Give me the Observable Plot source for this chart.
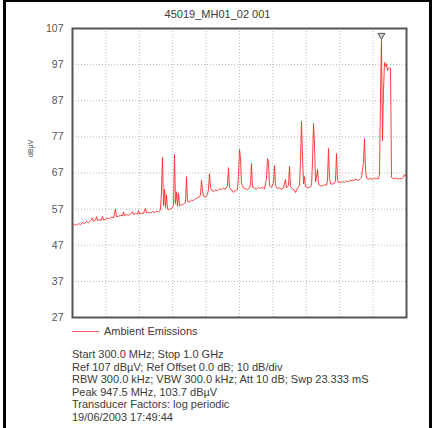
<!DOCTYPE html>
<html><head><meta charset="utf-8">
<script src="https://cdn.jsdelivr.net/npm/d3@7"></script>
<script src="https://cdn.jsdelivr.net/npm/@observablehq/plot@0.6"></script>
<style>
body{margin:0;background:#fff;font-family:"Liberation Sans",Arial,sans-serif;}
#fig{position:relative;width:438px;height:428px;overflow:hidden;background:#fff;}
#border{position:absolute;left:3px;top:-1px;width:429px;height:440px;border:3px solid #000;box-sizing:border-box;}
#title{position:absolute;left:3px;width:429px;top:8px;text-align:center;font-size:11px;color:#3a3a3a;}
#chart{position:absolute;left:0;top:0;}
#legend{position:absolute;left:72px;top:325px;font-size:11px;color:#3a3a3a;height:13px;}
#legend .sw{position:absolute;left:0;top:6px;width:27px;height:1px;background:#ff5a5a;}
#legend #legtext{position:absolute;left:32px;top:0;white-space:nowrap;line-height:13px;}
#notes{position:absolute;left:72px;top:348px;font-size:11px;line-height:12.6px;color:#3a3a3a;}
</style></head>
<body>
<div id="fig">
  <div id="chart"></div>
  <div id="border"></div>
  <div id="title"></div>
  <div id="legend"><span class="sw"></span><span id="legtext"></span></div>
  <div id="notes"></div>
</div>
<script>
const chartTitle = "45019_MH01_02 001";
const seriesName = "Ambient Emissions";
const yUnit = "dBµV";
const yTicks = [27, 37, 47, 57, 67, 77, 87, 97, 107];
const xGridTicks = [370, 440, 510, 580, 650, 720, 790, 860, 930];
const xDomain = [300, 1000];
const peak = {f: 947.5, v: 103.7};
const notes = [
  "Start 300.0 MHz; Stop 1.0 GHz",
  "Ref 107 dBµV; Ref Offset 0.0 dB; 10 dB/div",
  "RBW 300.0 kHz; VBW 300.0 kHz; Att 10 dB; Swp 23.333 mS",
  "Peak 947.5 MHz, 103.7 dBµV",
  "Transducer Factors: log periodic",
  "19/06/2003 17:49:44"
];
const freqMHz = [300,304.2,308.4,312.6,316.8,321,325.1,329.3,333.5,337.7,341.9,344,348.2,350.3,352.4,356.6,360.8,362.9,365,369.2,373.4,377.5,381.7,385.9,390.1,392.2,396.4,400.6,404.8,406.9,409,413.2,417.4,421.6,425.7,427.8,432,436.2,438.3,440.4,444.6,448.8,453,455.1,459.3,463.5,467.7,471.9,476,480.2,484.4,486.5,488.6,490.7,492.8,494.9,497,499.1,503.3,507.5,511.7,513.8,515.9,518,520.1,522.2,524.3,528.4,532.6,536.8,538.9,541,545.2,549.4,553.6,557.8,562,566.2,568.3,570.4,572.5,574.5,578.7,582.9,585,587.1,589.2,591.3,595.5,599.7,603.9,608.1,612.3,616.5,620.7,624.8,626.9,629,633.2,637.4,641.6,645.8,647.9,650,652.1,654.2,656.3,658.4,662.6,666.8,671,673.1,675.1,677.2,681.4,685.6,689.8,694,698.2,702.4,706.6,708.7,710.8,712.9,717.1,721.3,723.4,725.4,729.6,733.8,738,742.2,746.4,748.5,752.7,754.8,756.9,761.1,765.3,767.4,771.6,775.7,777.8,779.9,782,784.1,786.2,788.3,792.5,796.7,800.9,803,805.1,807.2,809.3,811.4,813.5,815.6,819.8,824,828.1,832.3,834.4,836.5,838.6,840.7,844.9,849.1,851.2,853.3,855.4,857.5,861.7,865.9,870.1,874.2,878.4,882.6,886.8,891,895.2,899.4,903.6,905.7,907.8,909.9,912,914.1,916.2,920.4,924.5,928.7,932.9,937.1,941.3,943.4,945.5,947.5,949.7,951.8,953.9,956,958.1,960.2,962.3,964.4,966.5,968.6,972.8,977,981.2,985.3,989.5,993.7,995.8,997.9,1000];
const levelDb = [52.4,52.8,52.5,53.0,52.7,53.3,53.0,53.6,53.2,53.8,54.6,53.6,54.0,54.9,53.8,54.1,53.9,55.0,54.0,54.2,54.5,54.3,54.8,54.6,57.0,54.9,55.0,55.3,55.1,56.2,55.2,55.5,55.3,55.7,56.3,55.5,55.8,55.6,56.6,55.7,55.9,55.8,57.2,56.0,56.1,55.9,56.3,56.1,56.4,56.2,56.8,62.0,71.3,58.0,62.5,57.5,61.0,57.0,56.9,57.2,58.0,72.1,58.5,61.8,57.8,61.5,57.9,58.2,58.4,58.8,66.0,59.2,59.0,59.5,59.4,59.9,60.1,60.4,61.0,65.0,62.0,60.6,60.3,61.0,62.5,66.8,63.0,62.2,61.9,62.3,62.1,62.6,62.4,62.8,62.5,63.5,68.5,63.0,62.3,61.6,62.2,62.4,66.0,73.5,71.0,64.0,63.5,62.8,62.6,62.4,62.8,64.0,69.6,63.0,62.8,62.5,63.0,62.7,63.1,62.6,65.5,71.0,70.0,63.5,63.0,64.5,69.0,63.5,62.7,62.9,62.5,62.8,65.2,62.9,63.5,68.8,63.2,62.6,62.2,61.6,62.8,63.5,70.0,81.3,72.0,64.0,66.0,63.2,62.9,63.0,63.5,70.0,80.7,75.0,64.5,66.0,68.0,63.8,63.5,63.4,63.8,63.6,65.0,73.8,65.5,64.0,63.9,64.2,65.0,72.4,65.0,64.4,64.3,64.6,64.4,64.8,64.6,65.0,64.8,65.1,65.3,64.9,65.5,65.8,68.0,70.0,76.5,68.0,65.5,65.3,65.5,65.2,65.6,65.4,65.5,66.5,88.0,103.7,76.0,90.0,97.6,96.5,97.3,95.4,96.0,96.2,96.0,65.8,65.4,65.6,65.3,65.5,65.4,65.8,66.6,66.2,66.4];

const data = freqMHz.map((f, i) => ({f, v: levelDb[i]}));

document.getElementById("title").textContent = chartTitle;
document.getElementById("legtext").textContent = seriesName;
document.getElementById("notes").innerHTML = notes.map(s => `<div>${s}</div>`).join("");

const chart = Plot.plot({
  width: 438,
  height: 325,
  marginTop: 28,
  marginBottom: 8,
  marginLeft: 72,
  marginRight: 32,
  style: {background: "transparent", fontFamily: "'Liberation Sans', Arial, sans-serif"},
  x: {domain: xDomain, axis: null},
  y: {domain: [yTicks[0], yTicks[yTicks.length - 1]], axis: null},
  marks: [
    Plot.gridY(yTicks.slice(1, -1), {stroke: "#b8b8b8", strokeOpacity: 1, strokeDasharray: "1,2"}),
    Plot.gridX(xGridTicks, {stroke: "#b8b8b8", strokeOpacity: 1, strokeDasharray: "1,2"}),
    Plot.axisY(yTicks, {tickSize: 0, tickPadding: 9, fontSize: 10.5, fill: "#555", label: null}),
    Plot.line(data, {x: "f", y: "v", stroke: "#ff2a2a", strokeOpacity: 0.9, strokeWidth: 1}),
    Plot.frame({stroke: "#555", strokeWidth: 2}),
    Plot.dot([peak], {x: "f", y: "v", symbol: "triangle", rotate: 180, r: 2.6, stroke: "#555", fill: "#ccc", strokeWidth: 1, dy: -5}),
    Plot.text([yUnit], {frameAnchor: "left", rotate: -90, dx: -42, dy: -16, fontSize: 7, fill: "#555"})
  ]
});
document.getElementById("chart").appendChild(chart);
</script>
</body></html>
